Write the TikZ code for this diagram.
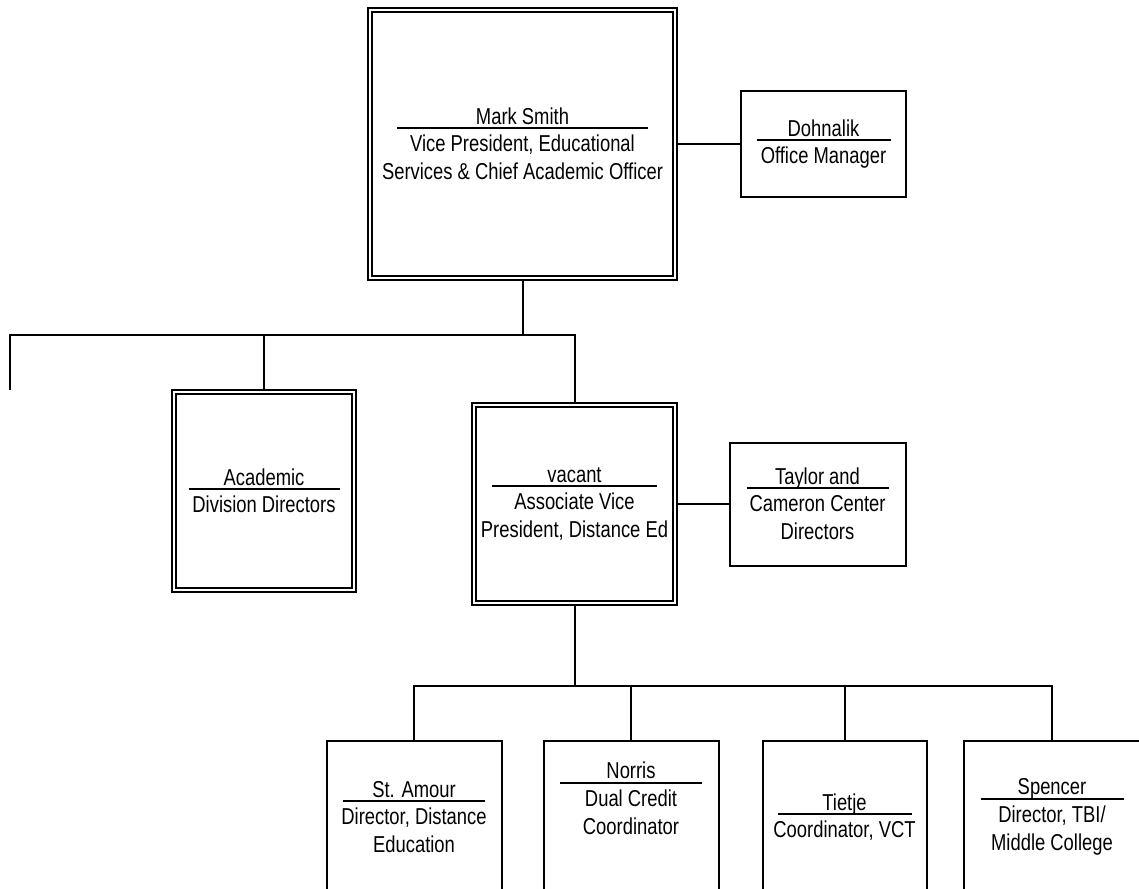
\documentclass[tikz,border=0pt]{standalone}
\usepackage{fontspec}
\setmainfont{Liberation Sans}[FakeStretch=0.8]
\usetikzlibrary{backgrounds}

\newcommand{\cardrule}[1]{\raisebox{0pt}[0pt][0pt]{\rule{#1}{2pt}}}
\newcommand{\card}[3]{#2\\[-23pt]\cardrule{#1}\\[-5.5pt]#3}

\begin{document}
\begin{tikzpicture}[x=1pt,y=-1pt,
		font=\fontsize{23}{28}\selectfont,
		cardbox/.style={draw,line width=2pt,align=center,inner sep=0pt},
		dblbox/.style={cardbox,double,double distance=2pt},
		link/.style={line width=2pt}]
		\useasboundingbox (0,0) rectangle (1139,888);
		\clip (0,0) rectangle (1139,888);
		
		\node[dblbox,minimum width=305pt,minimum height=268pt] (smith) at (522.5,144)
		{\card{251pt}{Mark Smith}{Vice President, Educational\\Services \& Chief Academic Officer}};
		\node[cardbox,minimum width=165pt,minimum height=105pt] (dohnalik) at (823.5,144)
		{\card{134pt}{Dohnalik}{Office Manager}};
		
		\node[dblbox,minimum width=180pt,minimum height=198pt] (academic) at (264,491)
		{\card{151pt}{Academic}{Division Directors}};
		\node[dblbox,minimum width=201pt,minimum height=198pt] (vacant) at (574.5,504)
		{\card{165pt}{vacant}{Associate Vice\\President, Distance Ed}};
		\node[cardbox,minimum width=176pt,minimum height=123pt] (taylor) at (817.5,504)
		{\card{142pt}{Taylor and}{Cameron Center\\Directors}};
		
		% bottom row runs off the page
		\node[cardbox,minimum width=175pt,minimum height=152pt] (stamour) at (414,817)
		{\card{142pt}{St. Amour}{Director, Distance\\Education}};
		\node[cardbox,minimum width=175pt,minimum height=152pt] (norris) at (631,817)
		{\card{142pt}{Norris}{Dual Credit\\Coordinator\\[10pt]\mbox{}}};
		\node[cardbox,minimum width=164pt,minimum height=152pt] (tietje) at (844.5,817)
		{\card{134pt}{Tietje}{Coordinator, VCT}};
		\node[cardbox,minimum width=177pt,minimum height=152pt] (spencer) at (1052,817)
		{\card{143pt}{Spencer}{Director, TBI/\\Middle College}};
		
		\begin{scope}[on background layer]
		\coordinate (busA) at (10,335);
		\coordinate (stub) at (10,390);
		\coordinate (busB) at (574.5,686);
		\draw[link] (smith) -- (dohnalik);
		\draw[link] (smith.south) -- (smith.south |- busA);
		\draw[link] (stub) -- (busA) -- (busA -| vacant.north) -- (vacant.north);
		\draw[link] (academic.north) -- (academic.north |- busA);
		\draw[link] (vacant) -- (taylor);
		\draw[link] (vacant.south) -- (busB);
		\draw[link] (stamour.north) -- (stamour.north |- busB) -- (spencer.north |- busB) -- (spencer.north);
		\draw[link] (norris.north) -- (norris.north |- busB);
		\draw[link] (tietje.north) -- (tietje.north |- busB);
		\end{scope}
\end{tikzpicture}
\end{document}
